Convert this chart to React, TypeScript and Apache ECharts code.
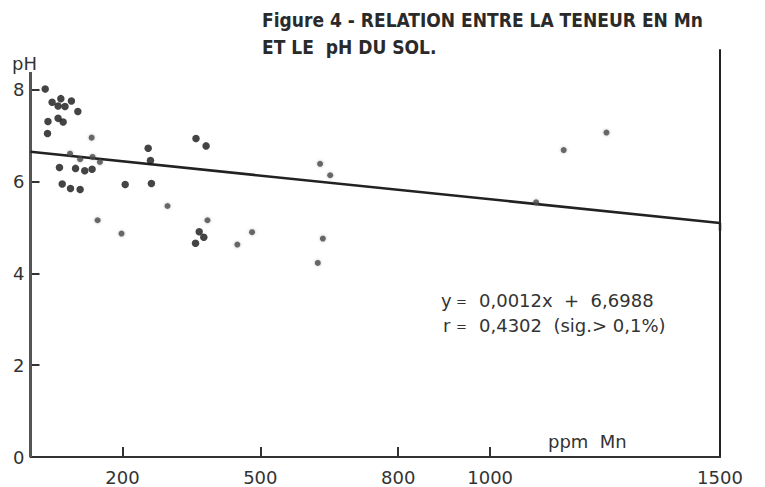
import React, { useEffect, useRef } from "react";
import * as echarts from "echarts";

// Black dots: [ppm Mn, pH]
const blackPoints: [number, number][] = [
  [32, 8.02], [47, 7.73], [66, 7.81], [60, 7.65], [75, 7.64], [89, 7.76],
  [103, 7.53], [60, 7.38], [38, 7.31], [71, 7.3], [37, 7.05],
  [63, 6.31], [98, 6.29], [118, 6.24], [134, 6.27], [69, 5.95], [87, 5.85],
  [108, 5.83], [206, 5.94], [256, 6.73], [261, 6.46], [263, 5.96],
  [360, 6.94], [382, 6.78], [367, 4.91], [377, 4.79], [359, 4.66],
];

// Grey dots
const greyPoints: [number, number][] = [
  [133, 6.96], [86, 6.61], [108, 6.49], [135, 6.54], [151, 6.43],
  [298, 5.47], [146, 5.16], [198, 4.87], [385, 5.16], [630, 6.39],
  [652, 6.14], [482, 4.9], [450, 4.63], [636, 4.76], [625, 4.23],
  [1160, 6.69], [1253, 7.07], [1100, 5.55],
];

// Regression line as drawn
const lineX = [0, 1500, 1500];
const lineY = [6.65, 5.1, 4.93];

const xTickValues = [200, 500, 800, 1000];
const xLabelValues = [200, 500, 800, 1000, 1500];
const yTickValues = [0, 2, 4, 6, 8];
const yAxisTop = 8.39;

const titleLine1 = "Figure 4 - RELATION ENTRE LA TENEUR EN Mn";
const titleLine2 = "ET LE  pH DU SOL.";
const eqName1 = "y";
const eqName2 = "r";
const eqRest1 = "0,0012x  +  6,6988";
const eqRest2 = "0,4302  (sig.> 0,1%)";

export default function App() {
  const ref = useRef<HTMLDivElement>(null);
  useEffect(() => {
    if (!ref.current) return;
    const chart = echarts.init(ref.current, undefined, { renderer: "svg" });
    const textFont = "DejaVu Sans";
    const titleFont = "bold 19px 'DejaVu Sans Condensed', 'DejaVu Sans', sans-serif";
    const eqFont = "18px 'DejaVu Sans'";
    chart.setOption({
      animation: false,
      backgroundColor: "#ffffff",
      grid: { left: 30.5, right: 45, top: 50, bottom: 30 },
      xAxis: {
        type: "value",
        min: 0,
        max: 1500,
        splitLine: { show: false },
        axisLine: { show: true, onZero: false, lineStyle: { color: "#333", width: 2 } },
        axisTick: {
          show: true,
          inside: true,
          length: 10,
          customValues: xTickValues,
          lineStyle: { color: "#333", width: 2 },
        },
        axisLabel: {
          customValues: xLabelValues,
          formatter: (v: number) => String(v),
          color: "#333",
          fontSize: 18,
          fontFamily: textFont,
          margin: 11,
        },
      },
      yAxis: [
        {
          type: "value",
          min: 0,
          max: 8.87,
          splitLine: { show: false },
          axisLine: { show: false },
          axisTick: {
            show: true,
            inside: true,
            length: 9,
            customValues: yTickValues,
            lineStyle: { color: "#333", width: 2 },
          },
          axisLabel: {
            customValues: yTickValues,
            formatter: (v: number) => String(v),
            color: "#333",
            fontSize: 18,
            fontFamily: textFont,
            margin: 6,
          },
        },
        {
          type: "value",
          position: "right",
          min: 0,
          max: 8.87,
          splitLine: { show: false },
          axisLine: { show: true, lineStyle: { color: "#222", width: 2 } },
          axisTick: { show: false },
          axisLabel: { show: false },
        },
      ],
      graphic: [
        {
          type: "text",
          left: 262,
          top: 10,
          style: { text: titleLine1, font: titleFont, fill: "#2a2a2a" },
        },
        {
          type: "text",
          left: 262,
          top: 37,
          style: { text: titleLine2, font: titleFont, fill: "#2a2a2a" },
        },
        {
          type: "text",
          left: 12,
          top: 54,
          style: { text: "pH", font: "18px 'DejaVu Sans'", fill: "#333" },
        },
        {
          type: "text",
          left: 548,
          top: 432,
          style: { text: "ppm  Mn", font: "18px 'DejaVu Sans'", fill: "#333" },
        },
        { type: "text", left: 441, top: 291, style: { text: eqName1, font: eqFont, fill: "#333" } },
        { type: "text", left: 456, top: 295, style: { text: "=", font: "13px 'DejaVu Sans'", fill: "#333" } },
        { type: "text", left: 479, top: 291, style: { text: eqRest1, font: eqFont, fill: "#333" } },
        { type: "text", left: 443, top: 316, style: { text: eqName2, font: eqFont, fill: "#333" } },
        { type: "text", left: 456, top: 320, style: { text: "=", font: "13px 'DejaVu Sans'", fill: "#333" } },
        { type: "text", left: 479, top: 316, style: { text: eqRest2, font: eqFont, fill: "#333" } },
      ],
      series: [
        {
          name: "axisLeft",
          type: "line",
          data: [[0, 0], [0, yAxisTop]],
          symbol: "none",
          lineStyle: { color: "#555", width: 3 },
          silent: true,
          clip: false,
          z: 1,
        },
        {
          name: "regression",
          type: "line",
          data: lineX.map((x, i) => [x, lineY[i]]),
          symbol: "none",
          lineStyle: { color: "#222", width: 2.5 },
          z: 2,
        },
        {
          name: "grey",
          type: "scatter",
          data: greyPoints,
          symbolSize: 6,
          itemStyle: { color: "#4a4a4a", shadowBlur: 3, shadowColor: "rgba(0,0,0,0.3)" },
          z: 3,
        },
        {
          name: "black",
          type: "scatter",
          data: blackPoints,
          symbolSize: 7.5,
          itemStyle: { color: "#151515" },
          z: 4,
        },
      ],
    });
    return () => chart.dispose();
  }, []);
  return <div ref={ref} style={{ width: 765, height: 487, position: "absolute", left: 0, top: 0 }} />;
}
